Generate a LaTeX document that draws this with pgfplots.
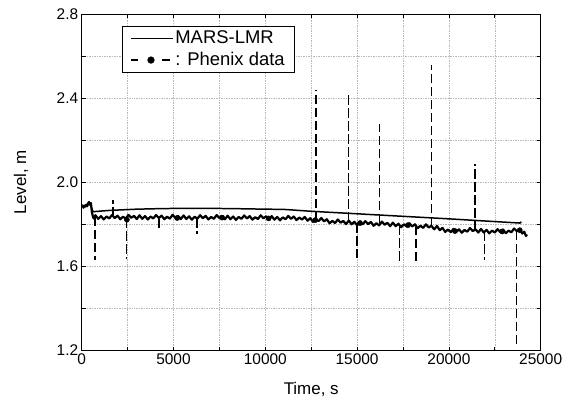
\documentclass[border=0pt]{standalone}
\usepackage{pgfplots}
\pgfplotsset{compat=1.18}
\usepackage{fontspec}
\setmainfont{Liberation Sans}
\begin{document}
\begin{tikzpicture}
\begin{axis}[
  at={(0,0)}, anchor=south west,
  scale only axis, width=459bp, height=336.5bp,
  xmin=0, xmax=25000, ymin=1.2, ymax=2.8,
  xtick={0,5000,...,25000}, minor xtick={2500,7500,...,22500},
  ytick={1.2,1.6,...,2.81}, minor ytick={1.4,1.8,2.2,2.6},
  grid=both,
  major grid style={gray!55, line width=0.5pt, dash pattern=on 1.5pt off 1pt},
  minor grid style={gray!55, line width=0.5pt, dash pattern=on 1.5pt off 1pt},
  tick align=inside, major tick length=4bp, minor tick length=4bp,
  tick style={black, line width=0.8pt},
  axis line style={line width=0.9pt},
  scaled x ticks=false,
  x tick label style={/pgf/number format/1000 sep={}},
  y tick label style={/pgf/number format/.cd, fixed, fixed zerofill, precision=1},
  /pgf/number format/assume math mode=true,
  ticklabel style={font=\fontsize{15.5}{18}\selectfont},
  xlabel={Time, s}, ylabel={Level, m},
  label style={font=\fontsize{17}{20}\selectfont},
  xlabel style={at={(axis description cs:0.5,-0.117)}, anchor=center},
  ylabel style={at={(axis description cs:-0.132,0.5)}, anchor=center},
  legend style={at={(0.0871,0.9643)}, anchor=north west, draw=black, line width=0.6pt,
    font=\fontsize{18.5}{21}\selectfont, inner xsep=8.5bp, inner ysep=2.5bp, row sep=2bp,
    nodes={inner sep=1.5bp, text height=13.5bp, text depth=3bp},
    cells={anchor=west}},
  legend cell align=left,
]
\addlegendimage{legend image code/.code={\draw[black,line width=1.4pt] (0bp,0bp) -- (42bp,0bp);}}
\addlegendentry{MARS-LMR}
\addlegendimage{legend image code/.code={\draw[black,line width=1.4pt] (0bp,0bp) -- (7bp,0bp);
  \fill[black] (19.8bp,0bp) circle (3.3bp);
  \draw[black,line width=1.4pt] (30.5bp,0bp) -- (38.5bp,0bp); \path (42bp,0bp);}}
\addlegendentry{: Phenix data}

% MARS-LMR
\addplot[black, line width=1.5pt, forget plot] coordinates {
(0,1.885)(450,1.898)(620,1.860)(1500,1.866)(3000,1.872)(4500,1.875)(6000,1.876)
(8000,1.875)(10000,1.872)(11000,1.871)(12500,1.862)(15000,1.850)(17500,1.838)
(20000,1.826)(22500,1.813)(23870,1.806)(23950,1.812)
};

% Phenix data: base signal
\addplot[black, line width=2.2pt, line join=round, forget plot] coordinates {
(0,1.882)(50,1.890)(100,1.879)(150,1.888)(200,1.884)(250,1.893)(300,1.886)(350,1.900)
(400,1.906)(450,1.893)(500,1.901)(550,1.862)(600,1.840)(650,1.828)(700,1.838)
(750,1.843)(900,1.826)(1050,1.839)(1200,1.823)(1350,1.837)(1500,1.828)(1650,1.844)
(1800,1.830)(1950,1.841)(2100,1.824)(2250,1.836)(2400,1.827)(2550,1.845)(2700,1.831)
(2850,1.840)(3000,1.825)(3150,1.843)(3300,1.826)(3450,1.839)(3600,1.823)(3750,1.837)
(3900,1.828)(4050,1.844)(4200,1.830)(4350,1.841)(4500,1.824)(4650,1.836)(4800,1.827)
(4950,1.845)(5100,1.831)(5250,1.840)(5400,1.825)(5550,1.842)(5700,1.825)(5850,1.838)
(6000,1.822)(6150,1.836)(6300,1.827)(6450,1.843)(6600,1.829)(6750,1.840)(6900,1.823)
(7050,1.835)(7200,1.826)(7350,1.844)(7500,1.830)(7650,1.839)(7800,1.824)(7950,1.841)
(8100,1.824)(8250,1.837)(8400,1.821)(8550,1.835)(8700,1.826)(8850,1.842)(9000,1.828)
(9150,1.839)(9300,1.822)(9450,1.834)(9600,1.825)(9750,1.843)(9900,1.829)(10050,1.838)
(10200,1.823)(10350,1.839)(10500,1.822)(10650,1.835)(10800,1.819)(10950,1.833)
(11100,1.824)(11250,1.840)(11400,1.826)(11550,1.837)(11700,1.820)(11850,1.832)
(12000,1.823)(12150,1.835)(12300,1.817)(12450,1.829)(12600,1.812)(12750,1.825)
(12900,1.815)(13050,1.830)(13200,1.814)(13350,1.824)(13500,1.805)(13650,1.816)
(13800,1.806)(13950,1.823)(14100,1.808)(14250,1.816)(14400,1.801)(14550,1.818)
(14700,1.800)(14850,1.812)(15000,1.796)(15150,1.809)(15300,1.800)(15450,1.815)
(15600,1.801)(15750,1.811)(15900,1.793)(16050,1.805)(16200,1.795)(16350,1.813)
(16500,1.798)(16650,1.807)(16800,1.791)(16950,1.808)(17100,1.791)(17250,1.803)
(17400,1.786)(17550,1.800)(17700,1.790)(17850,1.805)(18000,1.790)(18150,1.800)
(18300,1.782)(18450,1.793)(18600,1.783)(18750,1.800)(18900,1.785)(19050,1.793)
(19200,1.776)(19350,1.792)(19500,1.772)(19650,1.783)(19800,1.764)(19950,1.775)
(20100,1.763)(20250,1.778)(20400,1.764)(20550,1.776)(20700,1.760)(20850,1.773)
(21000,1.765)(21150,1.782)(21300,1.768)(21450,1.776)(21600,1.761)(21750,1.778)
(21900,1.761)(22050,1.773)(22200,1.757)(22350,1.770)(22500,1.761)(22650,1.777)
(22800,1.763)(22950,1.775)(23100,1.758)(23250,1.770)(23400,1.762)(23550,1.780)
(23700,1.767)(23850,1.776)(24000,1.756)(24100,1.765)(24200,1.744)(24250,1.752)
};

% Phenix data: spikes (dashed)
\addplot[black, line width=1.6pt, dash pattern=on 9.5bp off 3.5bp, unbounded coords=jump, forget plot] coordinates {
(710,1.835)(710,1.630)(710,nan)
(1720,1.835)(1720,1.914)(1720,nan)
(2450,1.830)(2450,1.637)(2450,nan)
(4200,1.830)(4200,1.780)(4200,nan)
(6290,1.830)(6290,1.756)(6290,nan)
(12770,1.815)(12770,2.441)(12770,nan)
(14530,1.812)(14530,2.414)(14530,nan)
(14980,1.805)(14980,1.641)(14980,nan)
(16210,1.805)(16210,2.276)(16210,nan)
(17300,1.795)(17300,1.624)(17300,nan)
(18200,1.792)(18200,1.613)(18200,nan)
(19060,1.790)(19060,2.557)(19060,nan)
(21410,1.770)(21410,2.086)(21410,nan)
(21940,1.768)(21940,1.629)(21940,nan)
(23680,1.770)(23680,1.224)
};

% Phenix data: markers
\addplot[only marks, mark=*, mark size=2.6bp, black, forget plot] coordinates {
(2460,1.822)(5200,1.830)(7650,1.832)(10180,1.828)(12720,1.820)(15160,1.806)
(17770,1.796)(20330,1.768)(22900,1.766)(23860,1.772)
};
\end{axis}
\pgfresetboundingbox
\useasboundingbox (-81.7bp,-52.5bp) rectangle (487.3bp,350.5bp);
\end{tikzpicture}
\end{document}
